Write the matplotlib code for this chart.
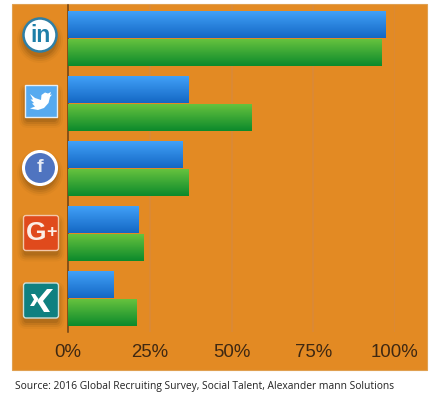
import matplotlib
matplotlib.use('Agg')
import matplotlib.pyplot as plt
import numpy as np
from matplotlib.colors import LinearSegmentedColormap
from matplotlib.patches import Circle, FancyBboxPatch, Polygon, Rectangle

W, H = 430, 395

networks = ['LinkedIn', 'Twitter', 'Facebook', 'Google+', 'Xing']
blue_vals = [97.2, 36.7, 34.9, 21.6, 14]
green_vals = [96, 56.2, 36.7, 23, 20.9]
ticks = [0, 25, 50, 75, 100]
tick_labels = ['0%', '25%', '50%', '75%', '100%']
source = 'Source: 2016 Global Recruiting Survey, Social Talent, Alexander mann Solutions'

ORANGE = '#e38a23'
blue_cm = LinearSegmentedColormap.from_list('b', ['#41a0f8', '#1468c4'])
green_cm = LinearSegmentedColormap.from_list('g', ['#66c23e', '#0c8a2c'])
grad = np.linspace(0, 1, 64).reshape(-1, 1)

plt.rcParams['font.family'] = ['Liberation Sans', 'DejaVu Sans']
fig = plt.figure(figsize=(W / 100, H / 100), dpi=100)


def px_axes(x0, y0, x1, y1):
    return fig.add_axes([x0 / W, 1 - y1 / H, (x1 - x0) / W, (y1 - y0) / H])


# overlay in pixel coords for the panel and the icons
bg = px_axes(0, 0, W, H)
bg.set_xlim(0, W)
bg.set_ylim(H, 0)
bg.axis('off')
bg.add_patch(Rectangle((12, 4), 415, 366, fc=ORANGE, ec='#e0a050', lw=0.8))
bg.text(15, 387, source, fontsize=7.42, color='#222222', family=['Open Sans', 'DejaVu Sans'], va='center')

ax = px_axes(68, 5, 395, 332)
ax.patch.set_alpha(0)
for s in ['top', 'right', 'bottom']:
    ax.spines[s].set_visible(False)
ax.spines['left'].set_color('#6a4014')
ax.spines['left'].set_linewidth(1.1)
ax.xaxis.grid(True, color='#d9893a', lw=1.1)
ax.set_axisbelow(True)
ax.tick_params(length=0)
ax.set_xticks(ticks)
ax.set_xticklabels(tick_labels, fontsize=13.4, color='#3f2812')
ax.tick_params(axis='x', pad=8.5)
ax.set_yticks(range(len(networks)))
ax.set_yticklabels([])

ypos = np.arange(len(networks))
for vals, off, cm in [(blue_vals, -0.21, blue_cm), (green_vals, 0.225, green_cm)]:
    bars = ax.barh(ypos + off, vals, height=0.4, color='none')
    for b in bars:
        ax.imshow(grad, cmap=cm, aspect='auto', zorder=3,
                  extent=(b.get_x(), b.get_x() + b.get_width(), b.get_y() + b.get_height(), b.get_y()))
ax.set_xlim(0, 100)
ax.set_ylim(4.515, -0.515)

# icons
ic = px_axes(0, 0, W, H)
ic.set_xlim(0, W)
ic.set_ylim(H, 0)
ic.axis('off')
ic.patch.set_alpha(0)


def shadow_round(x, y, w, h):
    for g, a in [(6, 0.04), (4, 0.07), (2, 0.09), (0, 0.12)]:
        ic.add_patch(FancyBboxPatch((x - g, y + 5 - g), w + 2 * g, h + 2 * g, boxstyle='round,pad=0,rounding_size=%d' % (3 + g),
                                    fc='#3a2408', ec='none', alpha=a))


def shadow_circle(cx, cy, r):
    for g, a in [(6, 0.04), (4, 0.07), (2, 0.09), (0, 0.12)]:
        ic.add_patch(Circle((cx, cy + 5), r + g, fc='#3a2408', ec='none', alpha=a))


# linkedin
shadow_circle(40, 35, 17)
ic.add_patch(Circle((40, 35), 16.5, fc='white', ec='#2f7fa5', lw=1.8))
ic.text(40, 35, 'in', fontsize=16.5, fontweight='bold', color='#1d7ea8', ha='center', va='center')

# twitter
shadow_round(25, 85, 32, 32)
ic.add_patch(Rectangle((25, 85), 32, 32, fc='#56aaf0', ec='#e8eef2', lw=1))
bird = [(30, 94), (35, 98), (41, 100), (41.5, 95), (45, 92.5), (48, 93.5), (51, 92), (50, 95), (52, 94.5),
        (50, 97), (48.5, 103), (44, 108), (38, 110), (30, 108.5), (35, 106.5), (32, 103.5), (34, 103), (30.5, 99.5), (33, 99.5)]
ic.add_patch(Polygon(bird, fc='white', ec='none'))

# facebook
shadow_circle(40, 168, 17)
ic.add_patch(Circle((40, 168), 16.5, fc='#4f74c0', ec='white', lw=2.2))
ic.text(40, 168, 'f', fontsize=14, fontweight='bold', color='#e6ebf5', ha='center', va='center')

# google+
shadow_round(23.5, 215.5, 35, 35)
ic.add_patch(FancyBboxPatch((23.5, 215.5), 35, 35, boxstyle='round,pad=0,rounding_size=2.5', fc='#e04a1c', ec='#f4c8a8', lw=1))
ic.text(36, 233.5, 'G', fontsize=19, fontweight='bold', color='#fbeee6', ha='center', va='center')
ic.text(51.5, 232, '+', fontsize=13, fontweight='bold', color='#fbeee6', ha='center', va='center')

# xing
shadow_round(23.5, 283, 35, 35)
ic.add_patch(FancyBboxPatch((23.5, 283), 35, 35, boxstyle='round,pad=0,rounding_size=2.5', fc='#0f8080', ec='#cfe0d8', lw=1))
ic.add_patch(Polygon([(53, 289), (47, 289), (37, 301), (44, 312), (50, 312), (43, 301)], fc='white', ec='none'))
ic.add_patch(Polygon([(31, 294), (35, 294), (38.5, 299), (34, 306), (30, 306), (34, 299.5)], fc='white', ec='none'))

fig.savefig('out.png', dpi=100, facecolor='white')
